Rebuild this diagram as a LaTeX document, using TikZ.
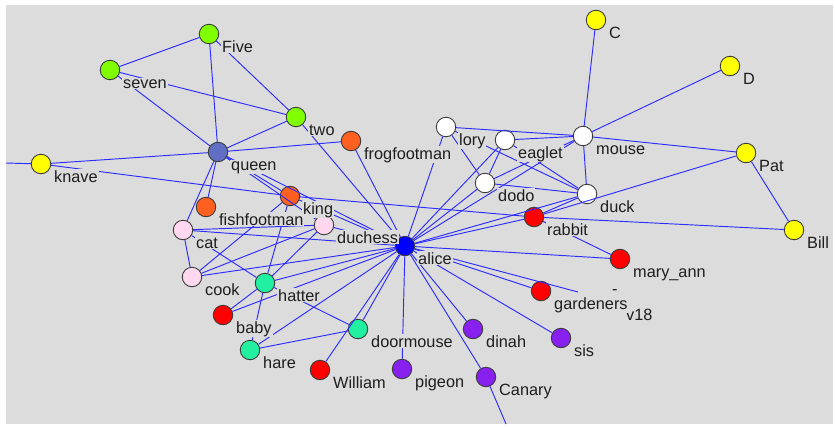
\documentclass[tikz,border=0pt]{standalone}
\usepackage{fontspec}
\setmainfont{Liberation Sans}
\definecolor{bggray}{RGB}{220,220,220}
\definecolor{edgeblue}{RGB}{45,45,255}
\definecolor{rim}{RGB}{60,60,60}
\definecolor{ink}{RGB}{30,30,30}
\definecolor{gardgreen}{RGB}{128,255,0}
\definecolor{royal}{RGB}{96,110,195}
\definecolor{court}{RGB}{255,96,32}
\definecolor{kitchen}{RGB}{255,216,240}
\definecolor{teaparty}{RGB}{32,240,160}
\definecolor{hearts}{RGB}{255,0,0}
\definecolor{birds}{RGB}{136,32,240}
\definecolor{cards}{RGB}{255,255,0}
\definecolor{caucus}{RGB}{255,255,255}
\definecolor{heroine}{RGB}{0,0,255}

\begin{document}
\begin{tikzpicture}[x=1pt, y=-1pt,
    vtx/.style={circle, draw=rim, line width=0.9pt, minimum size=19.5pt, inner sep=0pt},
    tag/.style={anchor=base west, fill=bggray, inner sep=1pt, text=ink, font=\fontsize{16.3}{18}\selectfont},
    link/.style={draw=edgeblue, line width=0.95pt}]
    \useasboundingbox (0,0) rectangle (835,426);
    \fill [bggray] (6,5) rectangle (833,424);

    \node [vtx, fill=gardgreen] (five) at (209,34) {};
    \node [vtx, fill=gardgreen] (seven) at (110,70) {};
    \node [vtx, fill=gardgreen] (two) at (296,117) {};
    \node [vtx, fill=royal] (queen) at (218,152) {};
    \node [vtx, fill=cards] (knave) at (41,164) {};
    \node [vtx, fill=court] (frog) at (351,141) {};
    \node [vtx, fill=court] (king) at (290,196) {};
    \node [vtx, fill=court] (fish) at (206,207) {};
    \node [vtx, fill=kitchen] (cat) at (183,230) {};
    \node [vtx, fill=kitchen] (duchess) at (324,225) {};
    \node [vtx, fill=kitchen] (cook) at (192,277) {};
    \node [vtx, fill=heroine] (alice) at (405,246) {};
    \node [vtx, fill=teaparty] (hatter) at (265,283) {};
    \node [vtx, fill=hearts] (baby) at (223,315) {};
    \node [vtx, fill=teaparty] (doormouse) at (358,329) {};
    \node [vtx, fill=teaparty] (hare) at (250,350) {};
    \node [vtx, fill=hearts] (william) at (320,370) {};
    \node [vtx, fill=birds] (pigeon) at (402,369) {};
    \node [vtx, fill=birds] (dinah) at (473,329) {};
    \node [vtx, fill=birds] (sis) at (561,338) {};
    \node [vtx, fill=birds] (canary) at (486,377) {};
    \node [vtx, fill=hearts] (gardeners) at (541,291) {};
    \node [vtx, fill=hearts] (maryann) at (620,259) {};
    \node [vtx, fill=hearts] (rabbit) at (534,217) {};
    \node [vtx, fill=cards] (bill) at (794,230) {};
    \node [vtx, fill=cards] (pat) at (746,153) {};
    \node [vtx, fill=cards] (dnode) at (730,66) {};
    \node [vtx, fill=cards] (cnode) at (596,20) {};
    \node [vtx, fill=caucus] (mouse) at (583,136) {};
    \node [vtx, fill=caucus] (duck) at (587,194) {};
    \node [vtx, fill=caucus] (eaglet) at (505,140) {};
    \node [vtx, fill=caucus] (lory) at (446,127) {};
    \node [vtx, fill=caucus] (dodo) at (485,183) {};
    \coordinate (knavew) at (6,163);
    \coordinate (canarys) at (506,424);
    \coordinate (v18c) at (578,292);

    \draw [link] (five) -- (seven);
    \draw [link] (five) -- (queen);
    \draw [link] (five) -- (two);
    \draw [link] (seven) -- (two);
    \draw [link] (seven) -- (queen);
    \draw [link] (two) -- (queen);
    \draw [link] (two) -- (alice);
    \draw [link] (queen) -- (knave);
    \draw [link] (knave) -- (knavew);
    \draw [link] (queen) -- (frog);
    \draw [link] (queen) -- (king);
    \draw [link] (queen) -- (duchess);
    \draw [link] (queen) -- (alice);
    \draw [link] (queen) -- (fish);
    \draw [link] (queen) -- (cat);
    \draw [link] (knave) -- (king);
    \draw [link] (king) -- (rabbit);
    \draw [link] (king) -- (alice);
    \draw [link] (frog) -- (alice);

    \draw [link] (cat) -- (cook);
    \draw [link] (cat) -- (duchess);
    \draw [link] (cat) -- (alice);
    \draw [link] (cat) -- (hatter);
    \draw [link] (cook) -- (king);
    \draw [link] (cook) -- (duchess);
    \draw [link] (cook) -- (alice);
    \draw [link] (hatter) -- (king);
    \draw [link] (hatter) -- (duchess);
    \draw [link] (hatter) -- (alice);
    \draw [link] (hatter) -- (baby);
    \draw [link] (hatter) -- (hare);
    \draw [link] (hatter) -- (doormouse);
    \draw [link] (baby) -- (alice);
    \draw [link] (hare) -- (doormouse);
    \draw [link] (hare) -- (alice);
    \draw [link] (duchess) -- (alice);

    \draw [link] (doormouse) -- (alice);
    \draw [link] (william) -- (alice);
    \draw [link] (pigeon) -- (alice);
    \draw [link] (dinah) -- (alice);
    \draw [link] (canary) -- (alice);
    \draw [link] (canary) -- (canarys);
    \draw [link] (sis) -- (alice);
    \draw [link] (gardeners) -- (alice);
    \draw [link] (alice) -- (v18c);
    \draw [link] (maryann) -- (alice);
    \draw [link] (rabbit) -- (alice);
    \draw [link] (rabbit) -- (maryann);
    \draw [link] (rabbit) -- (bill);
    \draw [link] (rabbit) -- (duck);
    \draw [link] (rabbit) -- (pat);

    \draw [link] (duck) -- (alice);
    \draw [link] (dodo) -- (alice);
    \draw [link] (eaglet) -- (alice);
    \draw [link] (lory) -- (alice);
    \draw [link] (mouse) -- (alice);
    \draw [link] (lory) -- (mouse);
    \draw [link] (lory) -- (duck);
    \draw [link] (lory) -- (dodo);
    \draw [link] (eaglet) -- (mouse);
    \draw [link] (eaglet) -- (dodo);
    \draw [link] (eaglet) -- (duck);
    \draw [link] (dodo) -- (mouse);
    \draw [link] (dodo) -- (duck);
    \draw [link] (mouse) -- (duck);
    \draw [link] (cnode) -- (mouse);
    \draw [link] (dnode) -- (mouse);
    \draw [link] (mouse) -- (pat);
    \draw [link] (pat) -- (bill);

    \node [tag, fill=none, inner sep=0pt] (dash-t) at (612,294) {-};
    \node [tag, fill=none] (v18-t) at (625,320) {v18};

    \node [tag] (five-t) at ([shift={(12,18)}]five.center) {Five};
    \node [tag] (seven-t) at ([shift={(12,18)}]seven.center) {seven};
    \node [tag] (two-t) at ([shift={(12,18)}]two.center) {two};
    \node [tag] (queen-t) at ([shift={(12,18)}]queen.center) {queen};
    \node [tag] (knave-t) at ([shift={(12,18)}]knave.center) {knave};
    \node [tag] (frog-t) at ([shift={(12,18)}]frog.center) {frogfootman};
    \node [tag] (king-t) at ([shift={(12,18)}]king.center) {king};
    \node [tag] (fish-t) at ([shift={(12,18)}]fish.center) {fishfootman};
    \node [tag] (cat-t) at ([shift={(12,18)}]cat.center) {cat};
    \node [tag] (duchess-t) at ([shift={(12,18)}]duchess.center) {duchess};
    \node [tag] (cook-t) at ([shift={(12,18)}]cook.center) {cook};
    \node [tag] (alice-t) at ([shift={(12,18)}]alice.center) {alice};
    \node [tag] (hatter-t) at ([shift={(12,18)}]hatter.center) {hatter};
    \node [tag] (baby-t) at ([shift={(12,18)}]baby.center) {baby};
    \node [tag] (doormouse-t) at ([shift={(12,18)}]doormouse.center) {doormouse};
    \node [tag] (hare-t) at ([shift={(12,18)}]hare.center) {hare};
    \node [tag] (william-t) at ([shift={(12,18)}]william.center) {William};
    \node [tag] (pigeon-t) at ([shift={(12,18)}]pigeon.center) {pigeon};
    \node [tag] (dinah-t) at ([shift={(12,18)}]dinah.center) {dinah};
    \node [tag] (sis-t) at ([shift={(12,18)}]sis.center) {sis};
    \node [tag] (canary-t) at ([shift={(12,18)}]canary.center) {Canary};
    \node [tag] (gardeners-t) at ([shift={(12,18)}]gardeners.center) {gardeners};
    \node [tag] (maryann-t) at ([shift={(12,18)}]maryann.center) {mary\_ann};
    \node [tag] (rabbit-t) at ([shift={(12,18)}]rabbit.center) {rabbit};
    \node [tag] (bill-t) at ([shift={(12,18)}]bill.center) {Bill};
    \node [tag] (pat-t) at ([shift={(12,18)}]pat.center) {Pat};
    \node [tag] (dnode-t) at ([shift={(12,18)}]dnode.center) {D};
    \node [tag] (cnode-t) at ([shift={(12,18)}]cnode.center) {C};
    \node [tag] (mouse-t) at ([shift={(12,18)}]mouse.center) {mouse};
    \node [tag] (duck-t) at ([shift={(12,18)}]duck.center) {duck};
    \node [tag] (eaglet-t) at ([shift={(12,18)}]eaglet.center) {eaglet};
    \node [tag] (lory-t) at ([shift={(12,18)}]lory.center) {lory};
    \node [tag] (dodo-t) at ([shift={(12,18)}]dodo.center) {dodo};
\end{tikzpicture}
\end{document}
